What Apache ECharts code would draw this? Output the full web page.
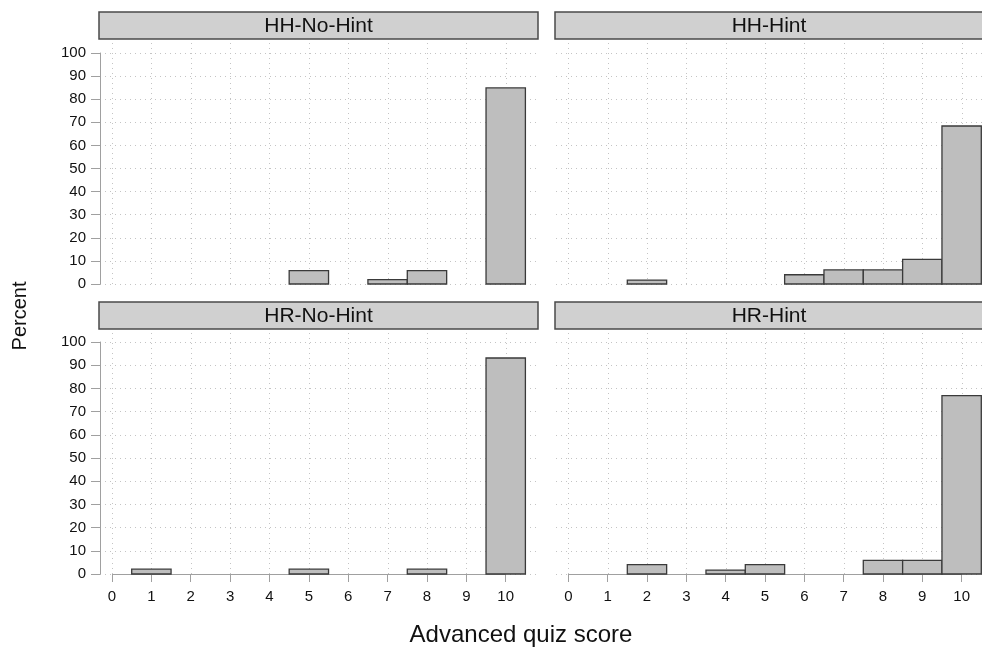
<!DOCTYPE html>
<html>
<head>
<meta charset="utf-8">
<script src="https://cdn.jsdelivr.net/npm/echarts@6/dist/echarts.min.js"></script>
<style>
  html, body { margin: 0; padding: 0; background: #fff; }
  #chart { width: 982px; height: 647px; }
</style>
</head>
<body>
<div id="chart"></div>
<script>
// Score categories on the x axis
const scores = [0, 1, 2, 3, 4, 5, 6, 7, 8, 9, 10];
// Y-axis tick labels
const percentTicks = [0, 10, 20, 30, 40, 50, 60, 70, 80, 90, 100];
// Panel titles
const panelNames = ['HH-No-Hint', 'HH-Hint', 'HR-No-Hint', 'HR-Hint'];

// Percent of participants at each score (index = score)
const hhNoHint = [0, 0, 0, 0, 0, 5.8, 0, 1.9, 5.8, 0, 84.9];
const hhHint   = [0, 0, 1.7, 0, 0, 0, 4.0, 6.1, 6.1, 10.7, 68.4];
const hrNoHint = [0, 2.1, 0, 0, 0, 2.1, 0, 0, 2.1, 0, 93.1];
const hrHint   = [0, 0, 4.0, 0, 1.7, 4.0, 0, 0, 5.9, 5.9, 76.9];

const panelValues = [hhNoHint, hhHint, hrNoHint, hrHint];

const FONT = '"Liberation Sans", Arial, sans-serif';
const GRID_COLOR = '#c4c4c4';
const AXIS_COLOR = '#a0a0a0';

// panel geometry; the right column runs to the page edge
const panels = [
  { left: 100, top: 53,  width: 438, height: 231, xMin: -0.305, xMax: 10.82,  bottom: false, leftAxis: true },
  { left: 556, top: 53,  width: 426, height: 231, xMin: -0.313, xMax: 10.518, bottom: false, leftAxis: false },
  { left: 100, top: 342, width: 438, height: 232, xMin: -0.305, xMax: 10.82,  bottom: true,  leftAxis: true },
  { left: 556, top: 342, width: 426, height: 232, xMin: -0.313, xMax: 10.518, bottom: true,  leftAxis: false }
];

const grids = [], xAxes = [], yAxes = [], series = [], graphics = [];

panels.forEach((p, i) => {
  grids.push({ left: p.left, top: p.top, width: p.width, height: p.height, containLabel: false });

  xAxes.push({
    type: 'value', gridIndex: i, min: p.xMin, max: p.xMax,
    axisLine: { show: false },
    axisTick: {
      show: p.bottom, customValues: scores, length: 8,
      lineStyle: { color: AXIS_COLOR, width: 1 }
    },
    axisLabel: {
      show: p.bottom, customValues: scores, margin: 15,
      color: '#111', fontFamily: FONT, fontSize: 15
    },
    splitLine: { show: false }
  });

  yAxes.push({
    type: 'value', gridIndex: i, min: 0, max: 100, interval: 10,
    axisLine: { show: p.leftAxis, onZero: false, lineStyle: { color: AXIS_COLOR, width: 1 } },
    axisTick: { show: p.leftAxis, length: 9, lineStyle: { color: AXIS_COLOR, width: 1 } },
    axisLabel: {
      show: p.leftAxis, margin: 14, color: '#111', fontFamily: FONT, fontSize: 15
    },
    splitLine: { show: true, lineStyle: { color: GRID_COLOR, width: 1, type: [1, 4] } }
  });

  // vertical dotted grid lines at each score
  series.push({
    type: 'custom', xAxisIndex: i, yAxisIndex: i, silent: true, clip: false, z: 1,
    data: scores.map(s => [s, 0]),
    renderItem: (params, api) => {
      const a = api.coord([api.value(0), 0]);
      const b = api.coord([api.value(0), 105]);
      return {
        type: 'line',
        shape: { x1: Math.round(a[0]) + 0.5, y1: a[1], x2: Math.round(b[0]) + 0.5, y2: b[1] },
        style: { stroke: GRID_COLOR, lineWidth: 1, lineDash: [1, 4] }
      };
    }
  });

  // x axis line spanning the tick range on bottom panels
  if (p.bottom) {
    series.push({
      type: 'custom', xAxisIndex: i, yAxisIndex: i, silent: true, clip: false, z: 2,
      data: [[scores[0], 0]],
      renderItem: (params, api) => {
        const a = api.coord([scores[0], 0]);
        const b = api.coord([scores[scores.length - 1], 0]);
        return {
          type: 'line',
          shape: { x1: a[0], y1: Math.round(a[1]) + 0.5, x2: b[0], y2: Math.round(b[1]) + 0.5 },
          style: { stroke: AXIS_COLOR, lineWidth: 1 }
        };
      }
    });
  }

  // histogram bars, one unit wide centred on each score
  const vals = panelValues[i];
  series.push({
    type: 'custom', xAxisIndex: i, yAxisIndex: i, clip: false, z: 3,
    data: scores.map((s, k) => [s, vals[k]]).filter(d => d[1] > 0),
    renderItem: (params, api) => {
      const x = api.value(0), y = api.value(1);
      const p0 = api.coord([x - 0.5, y]);
      const p1 = api.coord([x + 0.5, 0]);
      return {
        type: 'rect',
        shape: { x: p0[0], y: p0[1], width: p1[0] - p0[0], height: p1[1] - p0[1] },
        style: { fill: '#bebebe', stroke: '#3a3a3a', lineWidth: 1.3 }
      };
    }
  });

  // panel header strip (right column strips continue past the page edge)
  const hx = p.left - 1;
  const hw = (i % 2 === 1) ? 440 : p.width + 1;
  const hy = p.top - (p.bottom ? 40 : 41), hh = 27;
  graphics.push({
    type: 'rect', z: 10,
    shape: { x: hx, y: hy, width: hw, height: hh },
    style: { fill: '#d0d0d0', stroke: '#4a4a4a', lineWidth: 1.5 }
  });
  graphics.push({
    type: 'text', z: 11,
    x: (i % 2 === 1) ? 769 : hx + hw / 2, y: hy + hh / 2 + 1,
    style: {
      text: panelNames[i], fill: '#111', font: '21px ' + FONT,
      align: 'center', verticalAlign: 'middle'
    }
  });
});

// shared axis titles
graphics.push({
  type: 'text', x: 521, y: 635,
  style: { text: 'Advanced quiz score', fill: '#111', font: '24px ' + FONT, align: 'center', verticalAlign: 'middle' }
});
graphics.push({
  type: 'text', x: 20, y: 316, rotation: Math.PI / 2,
  style: { text: 'Percent', fill: '#111', font: '20px ' + FONT, align: 'center', verticalAlign: 'middle' }
});

const chart = echarts.init(document.getElementById('chart'), null, { renderer: 'canvas' });
chart.setOption({
  backgroundColor: '#ffffff',
  animation: false,
  grid: grids,
  xAxis: xAxes,
  yAxis: yAxes,
  series: series,
  graphic: graphics
});
</script>
</body>
</html>
